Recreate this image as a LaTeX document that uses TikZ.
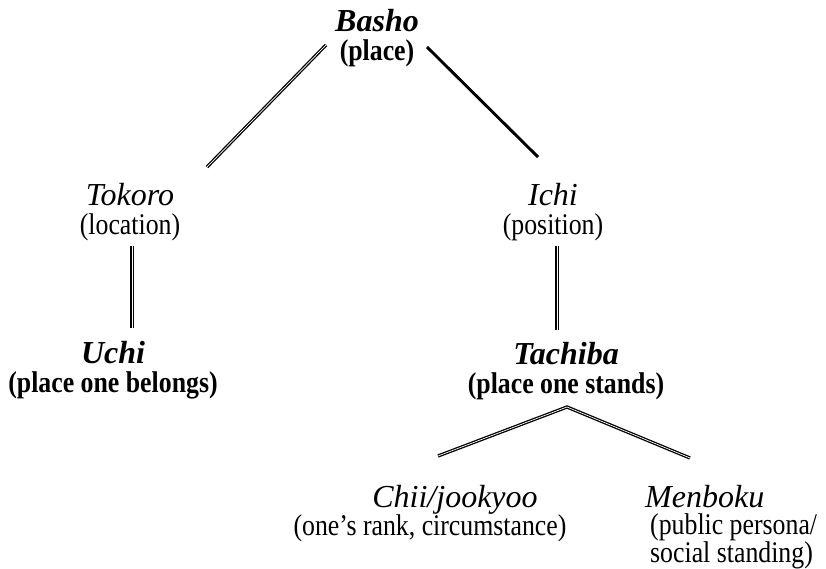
\documentclass[tikz,border=0pt]{standalone}
\usepackage{fontspec}
\setmainfont{Liberation Serif}[FakeStretch=0.86,
  ItalicFeatures={FakeStretch=1.0},BoldItalicFeatures={FakeStretch=1.0}]
\usetikzlibrary{positioning,calc}
\newcommand{\headword}[1]{{\fontsize{32}{29.5}\selectfont\textit{#1}}}

\begin{document}
\begin{tikzpicture}[x=1pt,y=-1pt,
  term/.style={align=center,inner sep=0pt,font=\fontsize{30}{29.5}\selectfont},
  link/.style={draw=black,line width=1.3pt,double=white,double distance=0.7pt},
  plain link/.style={draw=black,line width=2.9pt}]
  \useasboundingbox (0,0) rectangle (826,569);
  % the terms, top to bottom
  \node[term,anchor=north] (basho) at (377,9) {\textbf{\headword{Basho}}\\\textbf{(place)}};
  \node[term,anchor=north] (tokoro) at (130,183) {\headword{Tokoro}\\(location)};
  \node[term,anchor=north] (ichi) at (553,183) {\headword{Ichi}\\(position)};
  \node[term,anchor=north] (uchi) at (113,341) {\textbf{\headword{Uchi}}\\\textbf{(place one belongs)}};
  \node[term,anchor=north] (tachiba) at (566,342) {\textbf{\headword{Tachiba}}\\\textbf{(place one stands)}};
  \node[term,anchor=north,font=\fontsize{30}{28}\selectfont] (chii) at (430,485)
    {\hspace*{50pt}\headword{Chii/jookyoo}\\(one's rank, circumstance)};
  \node[term,anchor=north west,align=left,font=\fontsize{30}{27.5}\selectfont] (menboku) at (645,485)
    {\headword{Menboku}\\\,(public persona/\\\,social standing)};
  % connector ends
  \coordinate (basho-l) at (326,45);
  \coordinate (basho-r) at (427,47);
  \coordinate (tokoro-t) at (207,167);
  \coordinate (ichi-t) at (538,157);
  \coordinate (tokoro-b) at (132,246);
  \coordinate (uchi-t) at (132,328);
  \coordinate (ichi-b) at (557,246);
  \coordinate (tachiba-t) at (557,330);
  \coordinate (tachiba-b) at (567,407);
  \coordinate (chii-t) at (438,456);
  \coordinate (menboku-t) at (690,458);
  % connectors
  \draw[link] (basho-l) -- (tokoro-t);
  \draw[plain link] (basho-r) -- (ichi-t);
  \draw[link] (tokoro-b) -- (uchi-t);
  \draw[link] (ichi-b) -- (tachiba-t);
  \draw[link] (chii-t) -- (tachiba-b) -- (menboku-t);
\end{tikzpicture}
\end{document}
